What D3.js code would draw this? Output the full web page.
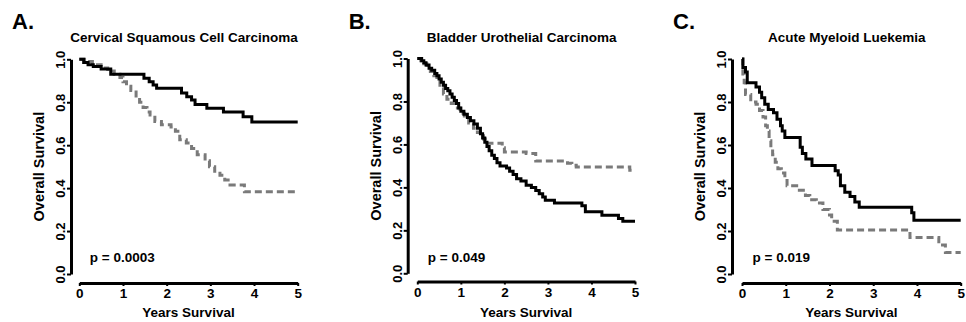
<!DOCTYPE html>
<html>
<head>
<meta charset="utf-8">
<script src="https://cdn.jsdelivr.net/npm/d3@7"></script>
<style>
  body { margin: 0; background: #fff; }
  text { font-family: "Liberation Sans", Arial, sans-serif; font-weight: bold; fill: #000; }
</style>
</head>
<body>
<svg id="chart" width="966" height="322"></svg>
<script>
const yearTicks = [0, 1, 2, 3, 4, 5];
const survivalTicks = [0, 0.2, 0.4, 0.6, 0.8, 1.0];

// [years, survival] steps
const cervicalSolid = [
  [0, 1.0], [0.1, 0.985], [0.2, 0.975], [0.32, 0.966], [0.5, 0.955], [0.72, 0.93],
  [1.48, 0.912], [1.6, 0.895], [1.69, 0.88], [1.77, 0.865], [2.34, 0.843], [2.46, 0.826],
  [2.57, 0.81], [2.65, 0.79], [2.92, 0.772], [3.3, 0.755], [3.75, 0.733], [3.95, 0.708], [5, 0.708]
];
const cervicalDashed = [
  [0, 1.0], [0.12, 0.99], [0.3, 0.975], [0.5, 0.96], [0.65, 0.945], [0.8, 0.93], [0.93, 0.915],
  [1.0, 0.895], [1.08, 0.875], [1.18, 0.855], [1.3, 0.82], [1.38, 0.8], [1.46, 0.775],
  [1.55, 0.755], [1.62, 0.74], [1.73, 0.71], [1.88, 0.695], [2.1, 0.685], [2.2, 0.665],
  [2.3, 0.625], [2.45, 0.61], [2.57, 0.585], [2.7, 0.555], [2.88, 0.527], [2.98, 0.5],
  [3.1, 0.478], [3.22, 0.46], [3.33, 0.438], [3.45, 0.415], [3.78, 0.383], [5, 0.383]
];

const bladderSolid = [
  [0, 1.0], [0.1, 0.99], [0.15, 0.98], [0.2, 0.97], [0.27, 0.955], [0.33, 0.945], [0.4, 0.93],
  [0.45, 0.92], [0.5, 0.905], [0.55, 0.89], [0.6, 0.875], [0.65, 0.86], [0.7, 0.85],
  [0.75, 0.835], [0.8, 0.82], [0.85, 0.805], [0.9, 0.79], [0.95, 0.77], [1.0, 0.755],
  [1.07, 0.74], [1.15, 0.725], [1.22, 0.71], [1.3, 0.695], [1.38, 0.675], [1.45, 0.65],
  [1.5, 0.63], [1.55, 0.61], [1.6, 0.59], [1.65, 0.57], [1.71, 0.55], [1.77, 0.535],
  [1.83, 0.515], [1.9, 0.5], [2.05, 0.49], [2.12, 0.475], [2.2, 0.46], [2.28, 0.44],
  [2.38, 0.43], [2.5, 0.41], [2.62, 0.4], [2.72, 0.385], [2.8, 0.37], [2.88, 0.355],
  [2.94, 0.34], [3.15, 0.327], [3.78, 0.315], [3.86, 0.287], [4.24, 0.27], [4.62, 0.255],
  [4.72, 0.242], [5, 0.242]
];
const bladderDashed = [
  [0, 1.0], [0.08, 0.99], [0.15, 0.975], [0.22, 0.96], [0.3, 0.94], [0.38, 0.92], [0.45, 0.895],
  [0.52, 0.865], [0.6, 0.835], [0.68, 0.81], [0.78, 0.79], [0.88, 0.77], [0.98, 0.745],
  [1.08, 0.725], [1.18, 0.7], [1.29, 0.675], [1.38, 0.655], [1.45, 0.64], [1.52, 0.625],
  [1.62, 0.605], [1.95, 0.585], [2.0, 0.565], [2.5, 0.558], [2.72, 0.523], [3.45, 0.512],
  [3.55, 0.503], [3.65, 0.495], [4.88, 0.48], [5, 0.48]
];

const amlSolid = [
  [0, 1.0], [0.02, 0.96], [0.08, 0.94], [0.12, 0.89], [0.32, 0.87], [0.4, 0.845], [0.45, 0.82],
  [0.52, 0.79], [0.6, 0.765], [0.72, 0.75], [0.8, 0.72], [0.88, 0.69], [0.92, 0.665],
  [0.98, 0.635], [1.33, 0.59], [1.38, 0.56], [1.46, 0.535], [1.6, 0.505], [2.13, 0.48],
  [2.2, 0.46], [2.25, 0.41], [2.35, 0.38], [2.47, 0.36], [2.58, 0.335], [2.68, 0.31],
  [3.88, 0.285], [3.93, 0.25], [5, 0.25]
];
const amlDashed = [
  [0, 1.0], [0.02, 0.93], [0.05, 0.89], [0.08, 0.835], [0.2, 0.8], [0.32, 0.79], [0.4, 0.76],
  [0.48, 0.73], [0.54, 0.69], [0.58, 0.665], [0.62, 0.62], [0.66, 0.585], [0.7, 0.555],
  [0.76, 0.52], [0.82, 0.49], [0.9, 0.47], [0.98, 0.435], [1.03, 0.41], [1.25, 0.39],
  [1.45, 0.365], [1.55, 0.345], [1.7, 0.33], [1.85, 0.3], [2.0, 0.275], [2.05, 0.245],
  [2.18, 0.205], [3.84, 0.17], [4.5, 0.135], [4.65, 0.1], [5, 0.1]
];

const panels = [
  {letter: 'A.', title: 'Cervical Squamous Cell Carcinoma', p: 'p = 0.0003',
   solid: cervicalSolid, dashed: cervicalDashed,
   axisX: 71, x0: 79.3, x1: 297.7, yTop: 59.3, yBot: 274, axisY: 283},
  {letter: 'B.', title: 'Bladder Urothelial Carcinoma', p: 'p = 0.049',
   solid: bladderSolid, dashed: bladderDashed,
   axisX: 407.7, x0: 417.3, x1: 635, yTop: 58.5, yBot: 273.3, axisY: 281.5},
  {letter: 'C.', title: 'Acute Myeloid Luekemia', p: 'p = 0.019',
   solid: amlSolid, dashed: amlDashed,
   axisX: 732, x0: 742, x1: 960.7, yTop: 59, yBot: 274, axisY: 283}
];

const svg = d3.select('#chart');

panels.forEach(pn => {
  const x = d3.scaleLinear().domain([0, 5]).range([pn.x0, pn.x1]);
  const y = d3.scaleLinear().domain([0, 1]).range([pn.yBot, pn.yTop]);
  const g = svg.append('g');

  // panel letter and title
  g.append('text')
    .attr('x', pn.axisX - 59).attr('y', 28.5)
    .style('font-size', '22px')
    .text(pn.letter);
  g.append('text')
    .attr('x', (pn.x0 + pn.x1) / 2 - 4.5).attr('y', 42)
    .attr('text-anchor', 'middle')
    .style('font-size', '13.5px')
    .text(pn.title);

  // y axis, R style, offset from the plot
  const yAxis = g.append('g')
    .attr('transform', `translate(${pn.axisX},0)`)
    .call(d3.axisLeft(y).tickValues(survivalTicks).tickFormat(d3.format('.1f'))
      .tickSize(4).tickSizeOuter(0));
  yAxis.select('.domain').attr('stroke-width', 3);
  yAxis.selectAll('.tick line').attr('stroke-width', 2);
  yAxis.selectAll('.tick text')
    .attr('transform', 'rotate(-90)')
    .attr('x', 0).attr('y', -10.5).attr('dy', '0.36em')
    .attr('text-anchor', 'middle')
    .style('font-size', '13px')
    .style('font-family', '"Liberation Sans", Arial, sans-serif')
    .style('font-weight', 'bold');

  // x axis
  const xAxis = g.append('g')
    .attr('transform', `translate(0,${pn.axisY})`)
    .call(d3.axisBottom(x).tickValues(yearTicks).tickFormat(d3.format('d'))
      .tickSize(3).tickSizeOuter(0));
  xAxis.select('.domain').attr('stroke-width', 3);
  xAxis.selectAll('.tick line').attr('stroke-width', 2);
  xAxis.selectAll('.tick text')
    .attr('y', 5.5).attr('dy', '0.71em')
    .style('font-size', '13.5px')
    .style('font-family', '"Liberation Sans", Arial, sans-serif')
    .style('font-weight', 'bold');

  // axis titles
  g.append('text')
    .attr('transform', `translate(${pn.axisX - 32},${(pn.yTop + pn.yBot) / 2}) rotate(-90)`)
    .attr('text-anchor', 'middle').attr('dy', '0.36em')
    .style('font-size', '14.5px')
    .text('Overall Survival');
  g.append('text')
    .attr('x', (pn.x0 + pn.x1) / 2).attr('y', 317)
    .attr('text-anchor', 'middle')
    .style('font-size', '13.5px')
    .text('Years Survival');

  g.append('text')
    .attr('x', pn.x0 + 10.5).attr('y', 262)
    .style('font-size', '13.5px')
    .text(pn.p);

  const line = d3.line()
    .x(d => x(d[0]))
    .y(d => y(d[1]))
    .curve(d3.curveStepAfter);

  g.append('path')
    .datum(pn.dashed)
    .attr('fill', 'none')
    .attr('stroke', '#7a7a7a')
    .attr('stroke-width', 3)
    .attr('stroke-dasharray', '7,4')
    .attr('d', line);

  g.append('path')
    .datum(pn.solid)
    .attr('fill', 'none')
    .attr('stroke', '#000')
    .attr('stroke-width', 3)
    .attr('d', line);
});
</script>
</body>
</html>
